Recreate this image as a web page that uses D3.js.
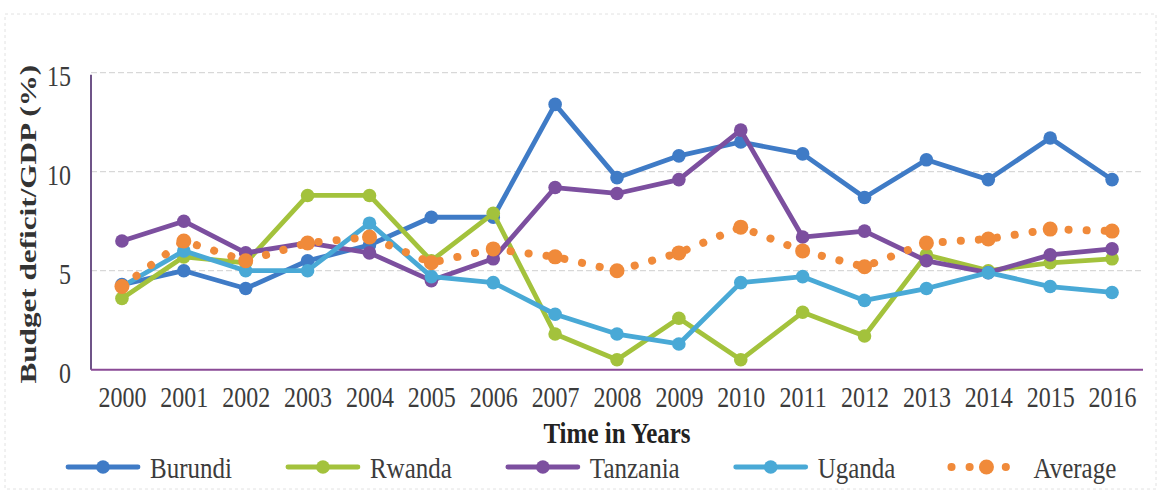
<!DOCTYPE html>
<html>
<head>
<meta charset="utf-8">
<script src="https://cdn.jsdelivr.net/npm/d3@7/dist/d3.min.js"></script>
<style>
  html, body { margin: 0; padding: 0; background: #fff; }
  svg { display: block; }
</style>
</head>
<body>
<svg id="chart" width="1161" height="495"></svg>
<script>
// Budget deficit as a share of GDP, East African Community members, 2000-2016
const years = ["2000","2001","2002","2003","2004","2005","2006","2007","2008",
               "2009","2010","2011","2012","2013","2014","2015","2016"];
const yTicks = [0, 5, 10, 15];

const burundi  = [4.3, 5.0, 4.1, 5.5, 6.3, 7.7, 7.7, 13.4, 9.7, 10.8, 11.5, 10.9, 8.7, 10.6, 9.6, 11.7, 9.6];
const rwanda   = [3.6, 5.7, 5.4, 8.8, 8.8, 5.5, 7.9, 1.8, 0.5, 2.6, 0.5, 2.9, 1.7, 5.8, 5.0, 5.4, 5.6];
const tanzania = [6.5, 7.5, 5.9, 6.4, 5.9, 4.5, 5.6, 9.2, 8.9, 9.6, 12.1, 6.7, 7.0, 5.5, 4.9, 5.8, 6.1];
const uganda   = [4.2, 6.0, 5.0, 5.0, 7.4, 4.7, 4.4, 2.8, 1.8, 1.3, 4.4, 4.7, 3.5, 4.1, 4.9, 4.2, 3.9];
const average  = [4.2, 6.5, 5.5, 6.4, 6.7, 5.4, 6.1, 5.7, 5.0, 5.9, 7.2, 6.0, 5.2, 6.4, 6.6, 7.1, 7.0];

const seriesNames = ["Burundi", "Rwanda", "Tanzania", "Uganda", "Average"];
const seriesData  = [burundi, rwanda, tanzania, uganda, average];
const seriesColors = ["#3f7bc6", "#a3c23c", "#7c4f9f", "#49a9d6", "#f08a3a"];

const svg = d3.select("#chart");
const W = 1161, H = 495;
const plot = { left: 91, right: 1143, top: 72.7, bottom: 369.7 };
const FONT = "Liberation Serif, Times New Roman, serif";
const TEXT_STRETCH = 1.2;   // the printed type is tall and narrow

// faint page frame
svg.append("rect")
  .attr("x", 5).attr("y", 14).attr("width", W - 10).attr("height", H - 20)
  .attr("fill", "none").attr("stroke", "#e2e2e2").attr("stroke-width", 1)
  .attr("stroke-dasharray", "3,3");

const x = d3.scalePoint().domain(years).range([plot.left, plot.right]).padding(0.5);
const y = d3.scaleLinear().domain([0, 15]).range([plot.bottom, plot.top]);

// horizontal gridlines
svg.append("g")
  .selectAll("line")
  .data(yTicks.filter(d => d > 0))
  .join("line")
  .attr("x1", plot.left).attr("x2", plot.right)
  .attr("y1", d => y(d)).attr("y2", d => y(d))
  .attr("stroke", "#cfcfcf").attr("stroke-width", 1)
  .attr("stroke-dasharray", "6,3");

// value axis
const yAxis = svg.append("g")
  .attr("transform", `translate(${plot.left},0)`)
  .call(d3.axisLeft(y).tickValues(yTicks).tickSize(0).tickPadding(20));
yAxis.select(".domain").remove();
yAxis.selectAll("text")
  .attr("font-family", FONT)
  .attr("font-size", 24)
  .attr("fill", "#3c3c3c")
  .attr("dy", "0.45em")
  .attr("transform", `scale(1,${TEXT_STRETCH})`);

// category axis
const xAxis = svg.append("g")
  .attr("transform", `translate(0,${plot.bottom})`)
  .call(d3.axisBottom(x).tickSize(0).tickPadding(14));
xAxis.select(".domain").remove();
xAxis.selectAll("text")
  .attr("font-family", FONT)
  .attr("font-size", 24)
  .attr("fill", "#3c3c3c")
  .attr("transform", `scale(1,${TEXT_STRETCH})`);

// axis lines
svg.append("line")
  .attr("x1", plot.left).attr("x2", plot.left)
  .attr("y1", plot.top + 2).attr("y2", plot.bottom)
  .attr("stroke", "#6f5488").attr("stroke-width", 2);
svg.append("line")
  .attr("x1", plot.left).attr("x2", plot.right)
  .attr("y1", plot.bottom).attr("y2", plot.bottom)
  .attr("stroke", "#8a4a96").attr("stroke-width", 2);

// axis titles
svg.append("text")
  .attr("transform", `translate(${(plot.left + plot.right) / 2},443) scale(1,${TEXT_STRETCH})`)
  .attr("text-anchor", "middle")
  .attr("font-family", FONT)
  .attr("font-weight", "bold")
  .attr("font-size", 25)
  .attr("fill", "#222")
  .text("Time in Years");

svg.append("text")
  .attr("transform", `translate(36,${(plot.top + plot.bottom) / 2 + 3}) rotate(-90) scale(1.3,1)`)
  .attr("text-anchor", "middle")
  .attr("font-family", FONT)
  .attr("font-weight", "bold")
  .attr("font-size", 24)
  .attr("fill", "#333")
  .text("Budget deficit/GDP (%)");

// series
const line = d3.line().x((d, i) => x(years[i])).y(d => y(d));

seriesData.forEach((vals, k) => {
  const isAvg = seriesNames[k] === "Average";
  const g = svg.append("g");
  g.append("path")
    .datum(vals)
    .attr("d", line)
    .attr("fill", "none")
    .attr("stroke", seriesColors[k])
    .attr("stroke-width", isAvg ? 8 : 4.8)
    .attr("stroke-linecap", "round")
    .attr("stroke-linejoin", "round")
    .attr("stroke-dasharray", isAvg ? "0.1,18" : null);
  g.selectAll("circle")
    .data(vals)
    .join("circle")
    .attr("cx", (d, i) => x(years[i]))
    .attr("cy", d => y(d))
    .attr("r", isAvg ? 7.5 : 6.8)
    .attr("fill", seriesColors[k]);
});

// legend: entries laid out left to right from their measured text widths
const legendY = 467;
const symLen = 70, symGap = 12, entryGap = 56;
const legend = svg.append("g");
let cursor = 68;
seriesNames.forEach((name, k) => {
  const isAvg = name === "Average";
  const x0 = cursor;
  legend.append("line")
    .attr("x1", x0).attr("x2", x0 + symLen)
    .attr("y1", legendY).attr("y2", legendY)
    .attr("stroke", seriesColors[k])
    .attr("stroke-width", isAvg ? 8 : 4.8)
    .attr("stroke-linecap", "round")
    .attr("stroke-dasharray", isAvg ? "0.1,18" : null);
  legend.append("circle")
    .attr("cx", x0 + symLen / 2).attr("cy", legendY)
    .attr("r", isAvg ? 7.5 : 6.8)
    .attr("fill", seriesColors[k]);
  const t = legend.append("text")
    .attr("transform", `translate(${x0 + symLen + symGap},${legendY}) scale(1,${TEXT_STRETCH})`)
    .attr("dy", "0.35em")
    .attr("font-family", FONT)
    .attr("font-size", 25)
    .attr("fill", "#3c3c3c")
    .text(name);
  cursor = x0 + symLen + symGap + t.node().getComputedTextLength() + entryGap;
});
</script>
</body>
</html>
